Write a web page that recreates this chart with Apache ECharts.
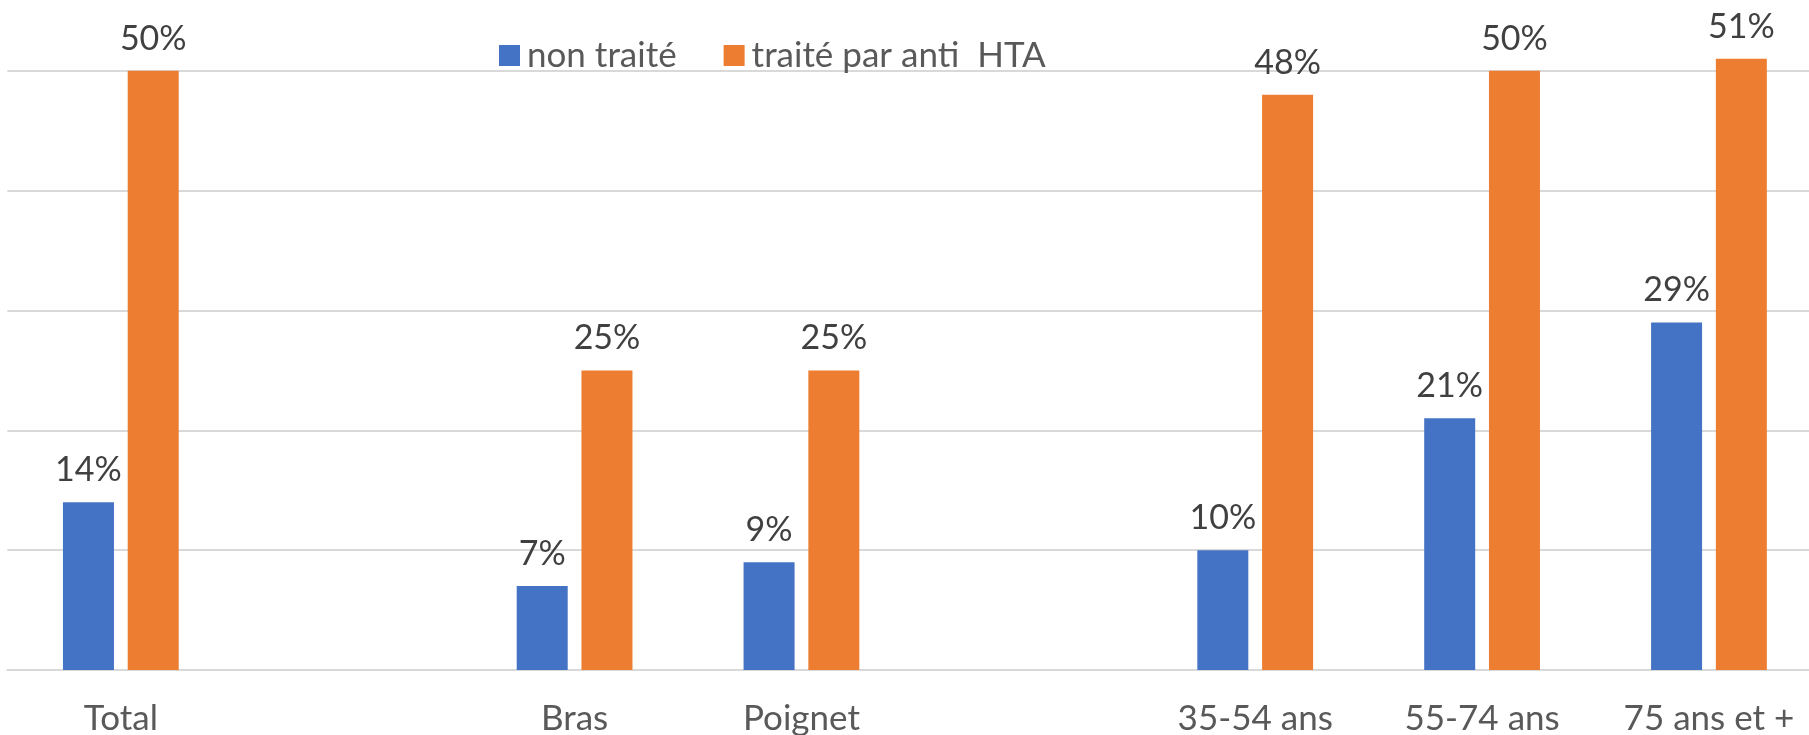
<!DOCTYPE html>
<html>
<head>
<meta charset="utf-8">
<script src="https://cdn.jsdelivr.net/npm/echarts@6/dist/echarts.min.js"></script>
<style>html,body{margin:0;padding:0;background:#fff;}#c{width:1809px;height:735px;}</style>
</head>
<body>
<div id="c"></div>
<script>
const categories = ['Total', '', 'Bras', 'Poignet', '', '35-54 ans', '55-74 ans', '75 ans et +'];
const nonTraite = [0.14, null, 0.07, 0.09, null, 0.10, 0.21, 0.29];
const traite = [0.50, null, 0.25, 0.25, null, 0.48, 0.50, 0.51];
const seriesNames = ['non traité', 'traité par anti  HTA'];
const yTicks = [0, 0.1, 0.2, 0.3, 0.4, 0.5, 0.6];

const FONT = 'Lato';
const chart = echarts.init(document.getElementById('c'));
const lbl = {
  show: true, position: 'top', distance: 15,
  fontFamily: FONT, fontSize: 34, color: '#404040',
  formatter: p => Math.round(p.value * 100) + '%'
};
chart.setOption({
  animation: false,
  textStyle: { fontFamily: FONT },
  legend: {
    left: 499, top: 38, padding: 0,
    itemWidth: 21, itemHeight: 21, itemGap: 47, icon: 'rect',
    textStyle: { fontFamily: FONT, fontSize: 35, color: '#595959', padding: [0, 0, 0, 2] },
    data: seriesNames
  },
  grid: { left: 7.4, width: 1815, top: -49, height: 719, containLabel: false, outerBoundsMode: 'none' },
  xAxis: {
    type: 'category', data: categories,
    axisLine: { show: true, lineStyle: { color: '#D9D9D9', width: 2 } },
    axisTick: { show: false },
    axisLabel: { fontFamily: FONT, fontSize: 35, color: '#595959', margin: 31, interval: 0 }
  },
  yAxis: {
    type: 'value', min: yTicks[0], max: yTicks[yTicks.length - 1], interval: 0.1,
    axisLine: { show: false }, axisTick: { show: false }, axisLabel: { show: false },
    splitLine: { lineStyle: { color: '#D9D9D9', width: 2 } }
  },
  series: [
    { name: seriesNames[0], type: 'bar', data: nonTraite, barWidth: 51, barGap: '27%',
      itemStyle: { color: '#4472C4' }, label: lbl },
    { name: seriesNames[1], type: 'bar', data: traite, barWidth: 51, barGap: '27%',
      itemStyle: { color: '#ED7D31' }, label: lbl }
  ]
});
</script>
</body>
</html>
